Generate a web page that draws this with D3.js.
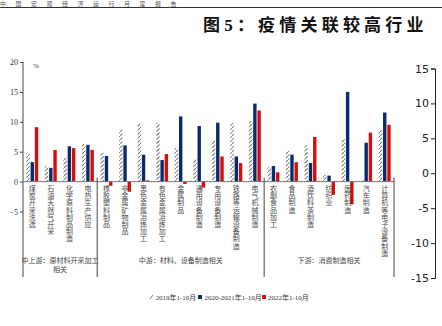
<!DOCTYPE html>
<html><head><meta charset="utf-8">
<script src="https://cdn.jsdelivr.net/npm/d3@7"></script>
<style>
html,body{margin:0;padding:0;background:#fff;overflow:hidden}
svg{display:block}
</style></head>
<body>
<script>
const categories = ["煤炭开采洗选","石油天然气开采","化学原料制品制造","电热生产供应","橡胶塑料制品","非金属矿物制品","黑色金属冶炼加工","有色金属冶炼加工","金属制品","通用设备制造","专用设备制造","铁路等运输设备制造","电气机械制造","农副食品加工","食品制造","酒饮料茶制造","纺织业","医药制造","汽车制造","计算机等电子设备制造"];
const seriesNames = ["2019年1-10月","2020-2021年1-10月","2022年1-10月"];
const v2019 = [4.8,2.6,4.0,6.3,4.8,8.7,9.7,9.85,5.65,3.7,6.9,9.8,10.1,2.4,5.2,6.05,1.1,7.1,0.3,8.6];
const v2021 = [3.25,2.3,5.9,6.15,4.3,6.05,4.5,3.6,10.9,9.3,9.85,4.2,13.05,2.6,4.5,3.1,1.0,15.0,6.5,11.55];
const v2022 = [9.1,5.3,5.6,5.3,-0.7,-1.7,0.2,4.6,-0.4,-1.0,4.2,3.1,11.9,1.55,3.25,7.45,-2.2,-3.8,8.2,9.5];
const yTicks = [20,15,10,5,0,-5];
const groups = [
  {name:"中上游：原材料开采加工", name2:"相关", from:0, to:4},
  {name:"中游：材料、设备制造相关", name2:"", from:4, to:13},
  {name:"下游：消费制造相关", name2:"", from:13, to:20}
];
const rightTicks = [15,10,5,0,-5,-10,-15];

const W=442,H=326;
const svg=d3.select("body").append("svg").attr("width",W).attr("height",H);
const defs=svg.append("defs");
const pat=defs.append("pattern").attr("id","hatch").attr("patternUnits","userSpaceOnUse")
  .attr("width",4).attr("height",4);
pat.append("rect").attr("width",4).attr("height",4).attr("fill","#fff");
pat.append("path").attr("d","M-1,5 L5,-1").attr("stroke","#7a7a7a").attr("stroke-width",1.1);

const serif="'Liberation Serif','Noto Sans CJK SC',serif";
const colors=["url(#hatch)","#0b2a6c","#d60d0d"];

// page header (cut off in the reference)
svg.append("text").attr("x",0).attr("y",6).attr("font-family","'Noto Sans CJK SC'")
  .attr("font-size",6).attr("letter-spacing",9.5).attr("fill","#555").text("中国宏观经济运行月度报告");
svg.append("line").attr("x1",0).attr("x2",W).attr("y1",7.5).attr("y2",7.5).attr("stroke","#333").attr("stroke-width",1);

// title
svg.append("text").attr("x",203).attr("y",31).attr("font-family",serif).attr("font-weight","bold")
  .attr("font-size",17).attr("letter-spacing",4.2).attr("fill","#111").text("图5：疫情关联较高行业");

const x=d3.scaleBand().domain(categories).range([23,394]).paddingInner(0.36).paddingOuter(0.18);
const xs=d3.scaleBand().domain(seriesNames).range([0,x.bandwidth()]).paddingInner(0.2);
const y=d3.scaleLinear().domain([-5,20]).range([211.5,62]);

// y axis
const ya=svg.append("g").attr("transform","translate(23,0)")
  .call(d3.axisLeft(y).tickValues(yTicks).tickSize(3).tickPadding(2));
ya.select(".domain").remove();
ya.selectAll(".tick line").attr("stroke","#444");
ya.selectAll(".tick text").attr("font-family",serif).attr("font-size",8).attr("fill","#333");
svg.append("line").attr("x1",23).attr("x2",23).attr("y1",y(20)).attr("y2",277).attr("stroke","#444");
svg.append("text").attr("x",33).attr("y",68).attr("font-family",serif).attr("font-size",7).attr("fill","#333").text("%");

// bars
const data=categories.map((c,i)=>({c,vals:[v2019[i],v2021[i],v2022[i]]}));
const g=svg.append("g");
data.forEach(d=>{
  d.vals.forEach((v,k)=>{
    g.append("rect").attr("x",x(d.c)+xs(seriesNames[k])).attr("width",xs.bandwidth())
      .attr("y",y(Math.max(0,v))).attr("height",Math.abs(y(v)-y(0)))
      .attr("fill",colors[k]);
  });
});

// zero line
svg.append("line").attr("x1",23).attr("x2",394).attr("y1",y(0)).attr("y2",y(0)).attr("stroke","#777").attr("stroke-width",1);

// group separators and labels
const step=x.step();
groups.forEach(gr=>{
  const xe=23+gr.to*step;
  svg.append("line").attr("x1",xe).attr("x2",xe).attr("y1",y(0)-4).attr("y2",277).attr("stroke","#444");
  const cx=23+(gr.from+gr.to)/2*step;
  svg.append("text").attr("x",cx).attr("y",263).attr("text-anchor","middle").attr("font-family",serif)
    .attr("font-size",7).attr("fill","#444").text(gr.name);
  if(gr.name2) svg.append("text").attr("x",cx).attr("y",272).attr("text-anchor","middle").attr("font-family",serif)
    .attr("font-size",7).attr("fill","#444").text(gr.name2);
});

// category labels vertical
categories.forEach(c=>{
  const t=svg.append("text").attr("font-family",serif).attr("font-size",7)
    .attr("fill","#4a4a4a").attr("text-anchor","middle");
  const cx=x(c)+x.bandwidth()/2;
  Array.from(c).forEach((ch,i)=>{
    t.append("tspan").attr("x",cx).attr("y",191+i*7.2).text(ch);
  });
});

// legend
const ly=297;
const lg=svg.append("g").attr("font-family",serif).attr("font-size",7).attr("fill","#333");
lg.append("path").attr("d",`M150,${ly+2} L153,${ly-2}`).attr("stroke","#777").attr("stroke-width",1);
lg.append("text").attr("x",155.5).attr("y",ly+2.5).text(seriesNames[0]);
lg.append("rect").attr("x",198).attr("y",ly-2).attr("width",4).attr("height",4).attr("fill",colors[1]);
lg.append("text").attr("x",204.5).attr("y",ly+2.5).text(seriesNames[1]);
lg.append("rect").attr("x",262).attr("y",ly-2).attr("width",4).attr("height",4).attr("fill",colors[2]);
lg.append("text").attr("x",268).attr("y",ly+2.5).text(seriesNames[2]);

// right-hand partial axis (neighbouring chart)
const yr=d3.scaleLinear().domain([-15,15]).range([278,68.5]);
const ra=svg.append("g").attr("transform","translate(435,0)")
  .call(d3.axisLeft(yr).tickValues(rightTicks).tickSize(4).tickPadding(2).tickFormat(d3.format("d")));
ra.select(".domain").attr("stroke","#222");
ra.selectAll(".tick line").attr("stroke","#222");
ra.selectAll(".tick text").attr("font-family","'DejaVu Sans',sans-serif").attr("font-size",11).attr("fill","#222");
ra.selectAll(".tick text").text(d=>d<0?"-"+Math.abs(d):d);
</script>
</body></html>
